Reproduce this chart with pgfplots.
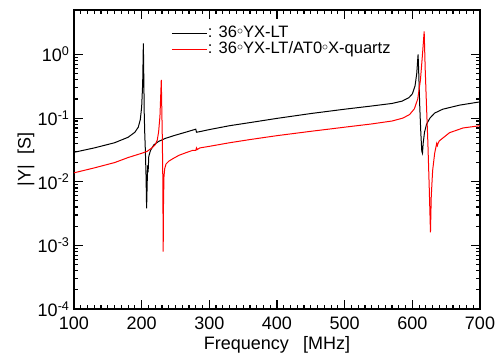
\documentclass[border=0pt]{standalone}
\usepackage{fontspec}
\setmainfont{Liberation Sans}
\usepackage{pgfplots}
\pgfplotsset{compat=1.18}
\newcommand{\dg}{\raisebox{0.35ex}{$\scriptstyle\circ$}}
\begin{document}
\begin{tikzpicture}
\begin{axis}[
  scale only axis,
  width=406pt, height=299pt,
  at={(0,0)}, anchor=south west,
  ymode=log,
  xmin=100, xmax=700,
  ymin=1e-4, ymax=5,
  xtick={100,200,300,400,500,600,700},
  minor x tick num=9,
  ytick={1e-4,1e-3,1e-2,1e-1,1},
  yticklabels={10\textsuperscript{-4},10\textsuperscript{-3},10\textsuperscript{-2},10\textsuperscript{-1},10\textsuperscript{0}},
  tick align=inside,
  major tick length=9pt,
  minor tick length=4.5pt,
  every tick/.style={line width=1.2pt, black},
  axis line style={line width=1.3pt},
  /pgf/number format/assume math mode=true,
  tick label style={font=\fontsize{18}{21}\selectfont},
  xticklabel style={yshift=-4pt},
  yticklabel style={xshift=-1pt},
  label style={font=\fontsize{18}{21}\selectfont},
  xlabel={Frequency\hspace{0.8em}[MHz]},
  ylabel={|Y|\hspace{0.6em}[S]},
  x label style={at={(axis description cs:0.5,0)}, anchor=base, yshift=-41pt},
  y label style={at={(axis description cs:-0.1182,0.5)}, anchor=center},
  legend style={draw=none, fill=none, at={(rel axis cs:0.2315,0.957)}, anchor=north west,
    font=\fontsize{16.5}{19}\selectfont, row sep=0pt,
    nodes={inner sep=0.5pt, text height=11.8pt, text depth=3.6pt}},
  legend cell align=left,
  legend image code/.code={\draw[#1, line width=1.3pt] (0pt,0pt) -- (35pt,0pt);},
]
\addplot[black, line width=1pt] coordinates {
(100,0.029) (130,0.034) (160,0.041) (180,0.050) (190,0.060) (195,0.072)
(198,0.095) (200,0.15) (201.5,0.35) (202.5,1.5) (203.2,0.4) (203.8,0.12)
(204.5,0.06) (205.5,0.03) (206.5,0.012) (207.3,0.0038) (208,0.008)
(208.8,0.018) (209.5,0.014) (210.5,0.025) (213,0.031) (218,0.038)
(225,0.043) (235,0.048) (250,0.054) (265,0.060) (278,0.066) (280,0.067)
(281,0.060) (285,0.061) (300,0.066) (330,0.076) (360,0.085) (400,0.099)
(450,0.118) (500,0.138) (540,0.155) (570,0.170) (585,0.185) (595,0.21)
(600,0.24) (604,0.32) (606.5,0.5) (608.5,1.0) (609.5,0.5) (611,0.15)
(612.5,0.06) (614,0.03) (615,0.028) (616,0.04) (618,0.06) (621,0.08)
(626,0.10) (633,0.12) (645,0.138) (670,0.16) (700,0.18)
};
\addlegendentry{: 36\dg YX-LT}
\addplot[red, line width=1pt] coordinates {
(100,0.0138) (130,0.0165) (160,0.020) (180,0.024) (200,0.028) (208,0.030)
(215,0.034) (220,0.038) (223,0.045) (225,0.06) (227,0.106) (228.3,0.25)
(229,0.40) (229.7,0.15) (230.5,0.05) (231.3,0.01) (231.8,0.0008)
(232.3,0.005) (233,0.012) (234,0.016) (236,0.019) (240,0.021) (246,0.023)
(255,0.026) (267,0.029) (275,0.031) (280,0.031) (281,0.034) (282,0.032)
(286,0.034) (300,0.036) (330,0.041) (360,0.046) (400,0.053) (450,0.062)
(500,0.072) (540,0.081) (570,0.090) (586,0.100) (596,0.114) (603,0.14)
(608,0.20) (612,0.4) (615,1.0) (617.5,2.3) (619,0.6) (621,0.15)
(623,0.04) (625,0.008) (626.8,0.0016) (628,0.006) (630,0.015) (633,0.028)
(636,0.040) (637,0.037) (638,0.040) (640,0.044) (655,0.059) (675,0.07)
(700,0.076)
};
\addlegendentry{: 36\dg YX-LT/AT0\dg X-quartz}
\end{axis}
\pgfresetboundingbox
\path (-74pt,-46pt) rectangle (425pt,309pt);
\end{tikzpicture}
\end{document}
